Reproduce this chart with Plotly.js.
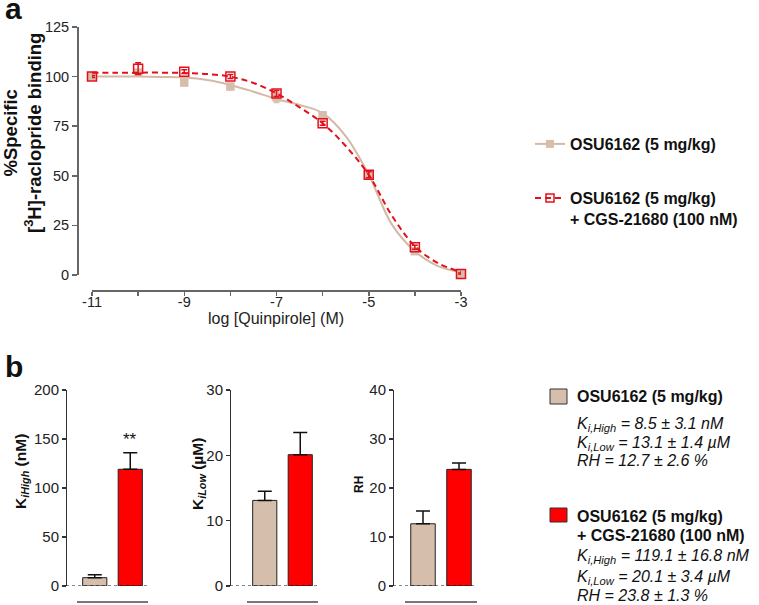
<!DOCTYPE html>
<html>
<head>
<meta charset="utf-8">
<script src="https://cdn.plot.ly/plotly-3.0.1.min.js"></script>
<style>
  body { margin: 0; background: #fff; }
  #myDiv { width: 759px; height: 605px; }
</style>
</head>
<body>
<div id="myDiv"></div>
<script>
// ---- panel a: competition binding points ----
var logConc = [-11, -10, -9, -8, -7, -6, -5, -4, -3];
var osuY = [100, 102, 97, 95, 89.5, 80.5, 50.5, 12, 0.5];
var osuErr = [0.5, 1, 1.5, 1.5, 2.5, 1.5, 1, 1.5, 0.5];
var cgsY = [100, 104, 102.5, 100, 91.5, 76.5, 50.5, 14, 0.5];
var cgsErr = [0.5, 3, 1, 1, 1.5, 1, 1.5, 1, 0.5];

// fitted curves, every half decade
var fitX = [-11, -10.5, -10, -9.5, -9, -8.5, -8, -7.5, -7, -6.5, -6, -5.5, -5, -4.5, -4, -3.5, -3];
var osuFit = [100, 100, 100, 99.8, 99.5, 98.3, 95.8, 92.4, 88.7, 85.7, 81.6, 70, 50.5, 25.5, 12, 4.5, 1.5];
var cgsFit = [102, 102, 102, 102, 101.8, 101.3, 100, 96.8, 91.5, 84.5, 76.5, 65, 50.5, 30, 14.5, 6, 1.5];

var xTickVals = [-11, -9, -7, -5, -3];
var xTickText = ['-11', '-9', '-7', '-5', '-3'];

// ---- panel b: fitted parameters ----
var groups = ['OSU6162 (5 mg/kg)', 'OSU6162 (5 mg/kg) + CGS-21680 (100 nM)'];
var kiHigh = [8.5, 119.1];
var kiHighErr = [3.1, 16.8];
var kiLow = [13.1, 20.1];
var kiLowErr = [1.4, 3.4];
var rh = [12.7, 23.8];
var rhErr = [2.6, 1.3];

var TAN = '#d6bead';
var TANLINE = '#d3b9a6';
var RED = '#ff0000';
var DASH = '#e3101c';
var FONT = 'Liberation Sans, Arial, sans-serif';

var W = 759, H = 605;
function px(x) { return x / W; }
function py(y) { return 1 - y / H; }

var data = [
  // curves
  { x: fitX, y: osuFit, mode: 'lines', line: { color: TANLINE, width: 2, shape: 'spline' },
    showlegend: false, cliponaxis: false, xaxis: 'x', yaxis: 'y' },
  { x: logConc, y: osuY, mode: 'markers', marker: { symbol: 'square', size: 8.5, color: TAN },
    error_y: { type: 'data', array: osuErr, color: TAN, thickness: 1.5, width: 3 },
    showlegend: false, cliponaxis: false, xaxis: 'x', yaxis: 'y' },
  { x: fitX, y: cgsFit, mode: 'lines', line: { color: DASH, width: 2, dash: '6px,4px', shape: 'spline' },
    showlegend: false, cliponaxis: false, xaxis: 'x', yaxis: 'y' },
  { x: logConc, y: cgsY, mode: 'markers',
    marker: { symbol: 'square-open', size: 9, color: DASH, line: { width: 1.5, color: DASH } },
    error_y: { type: 'data', array: cgsErr, color: DASH, thickness: 1.5, width: 3 },
    showlegend: false, cliponaxis: false, xaxis: 'x', yaxis: 'y' },
  // legend samples for panel a
  { x: [null], y: [null], mode: 'lines+markers', name: groups[0],
    line: { color: TANLINE, width: 2 }, marker: { symbol: 'square', size: 8, color: TAN },
    legend: 'legend', xaxis: 'x', yaxis: 'y' },
  { x: [null], y: [null], mode: 'lines+markers', name: 'OSU6162 (5 mg/kg)<br>+ CGS-21680 (100 nM)',
    line: { color: DASH, width: 2, dash: '6px,4px' },
    marker: { symbol: 'square-open', size: 8, color: DASH, line: { width: 1.5, color: DASH } },
    legend: 'legend2', xaxis: 'x', yaxis: 'y' }
];

var panels = [
  { vals: kiHigh, errs: kiHighErr, xa: 'x2', ya: 'y2' },
  { vals: kiLow, errs: kiLowErr, xa: 'x3', ya: 'y3' },
  { vals: rh, errs: rhErr, xa: 'x4', ya: 'y4' }
];
var barColors = [TAN, RED];
panels.forEach(function (p) {
  for (var i = 0; i < 2; i++) {
    data.push({
      type: 'bar', x: [groups[i]], y: [p.vals[i]], width: 0.68,
      marker: { color: barColors[i], line: { color: '#222', width: 1 } },
      error_y: { type: 'data', symmetric: false, array: [p.errs[i]], arrayminus: [0],
                 color: '#111', thickness: 1.5, width: 7 },
      name: groups[i], showlegend: false,
      cliponaxis: false, xaxis: p.xa, yaxis: p.ya
    });
  }
});

var axisBase = {
  showgrid: false, zeroline: false, showline: true, linecolor: '#666', linewidth: 1.5,
  ticks: 'outside', ticklen: 5, tickwidth: 1.5, tickcolor: '#666',
  tickfont: { family: FONT, size: 14.5, color: '#222' }, anchor: 'free'
};
function ax(extra) { return Object.assign({}, axisBase, extra); }

var catAxis = { type: 'category', showticklabels: false, ticks: '', linecolor: '#777', linewidth: 2,
                position: py(602) };
var barY = { linecolor: '#333', tickcolor: '#333', linewidth: 1, ticklen: 4,
             tickfont: { family: FONT, size: 15, color: '#222' } };

// text block for the bar legend (panel b)
function stat(i) {
  return [
    '<i>K<sub>i,High</sub> = ' + kiHigh[i].toFixed(1) + ' ± ' + kiHighErr[i].toFixed(1) + ' nM</i>',
    '<i>K<sub>i,Low</sub> = ' + kiLow[i].toFixed(1) + ' ± ' + kiLowErr[i].toFixed(1) + ' µM</i>',
    '<i>RH = ' + rh[i].toFixed(1) + ' ± ' + rhErr[i].toFixed(1) + ' %</i>'
  ];
}
var legLines = [
  { t: '<b>OSU6162 (5 mg/kg)</b>', y: 397 },
  { t: stat(0)[0], y: 424 },
  { t: stat(0)[1], y: 443 },
  { t: stat(0)[2], y: 460 },
  { t: '<b>OSU6162 (5 mg/kg)</b>', y: 516 },
  { t: '<b>+ CGS-21680 (100 nM)</b>', y: 535 },
  { t: stat(1)[0], y: 556 },
  { t: stat(1)[1], y: 577 },
  { t: stat(1)[2], y: 595 }
];

var annotations = [
  { text: '<b>a</b>', xref: 'paper', yref: 'paper', x: px(3), y: py(9), xanchor: 'left', yanchor: 'middle',
    showarrow: false, font: { family: FONT, size: 30, color: '#111' } },
  { text: '<b>b</b>', xref: 'paper', yref: 'paper', x: px(3), y: py(366), xanchor: 'left', yanchor: 'middle',
    showarrow: false, font: { family: FONT, size: 30, color: '#111' } },
  { text: '<b>%Specific<br>[<sup>3</sup>H]-raclopride binding</b>', xref: 'paper', yref: 'paper',
    x: px(22), y: py(133), xanchor: 'center', yanchor: 'middle', textangle: -90, showarrow: false,
    font: { family: FONT, size: 18.5, color: '#111' } },
  { text: 'log [Quinpirole] (M)', xref: 'paper', yref: 'paper',
    x: px(276), y: py(318), xanchor: 'center', yanchor: 'middle', showarrow: false,
    font: { family: FONT, size: 16, color: '#222' } },
  { text: '<b>K<sub><i>iHigh</i></sub> (nM)</b>', xref: 'paper', yref: 'paper',
    x: px(21), y: py(472), xanchor: 'center', yanchor: 'middle', textangle: -90, showarrow: false,
    font: { family: FONT, size: 15.5, color: '#111' } },
  { text: '<b>K<sub><i>iLow</i></sub> (µM)</b>', xref: 'paper', yref: 'paper',
    x: px(198), y: py(474), xanchor: 'center', yanchor: 'middle', textangle: -90, showarrow: false,
    font: { family: FONT, size: 15.5, color: '#111' } },
  { text: '<b>RH</b>', xref: 'paper', yref: 'paper',
    x: px(359), y: py(485), xanchor: 'center', yanchor: 'middle', textangle: -90, showarrow: false,
    font: { family: FONT, size: 12, color: '#111' } },
  { text: '**', xref: 'x2', yref: 'y2', x: groups[1], y: kiHigh[1] + kiHighErr[1],
    yanchor: 'bottom', yshift: 2, showarrow: false, font: { family: FONT, size: 17, color: '#111' } }
];
legLines.forEach(function (l) {
  annotations.push({ text: l.t, xref: 'paper', yref: 'paper', x: px(575), y: py(l.y),
    xanchor: 'left', yanchor: 'middle', showarrow: false, font: { family: FONT, size: 16, color: '#111' } });
});

var layout = {
  width: W, height: H,
  margin: { l: 0, r: 0, t: 0, b: 0 },
  paper_bgcolor: '#fff', plot_bgcolor: 'rgba(0,0,0,0)',
  font: { family: FONT, color: '#111' },
  barmode: 'overlay',
  xaxis: ax({ domain: [px(92), px(461)], range: [-11, -3], position: py(290),
              tickvals: xTickVals, ticktext: xTickText, ticklen: 4, ticklabelstandoff: -6,
              minor: { dtick: 1, tick0: -11, ticks: 'outside', ticklen: 4, tickwidth: 1.5, tickcolor: '#666' } }),
  yaxis: ax({ domain: [py(275), py(27)], range: [0, 125], dtick: 25, position: px(77) }),

  xaxis2: ax(Object.assign({ domain: [px(77), px(148)] }, catAxis)),
  yaxis2: ax(Object.assign({ domain: [py(586), py(390)], range: [0, 200], dtick: 50, position: px(66) }, barY)),
  xaxis3: ax(Object.assign({ domain: [px(247), px(318)] }, catAxis)),
  yaxis3: ax(Object.assign({ domain: [py(586), py(390)], range: [0, 30], dtick: 10, position: px(230) }, barY)),
  xaxis4: ax(Object.assign({ domain: [px(405), px(477)] }, catAxis)),
  yaxis4: ax(Object.assign({ domain: [py(586), py(390)], range: [0, 40], dtick: 10, position: px(393) }, barY)),

  legend: { x: px(530), y: py(127), xanchor: 'left', yanchor: 'top', bgcolor: 'rgba(0,0,0,0)',
            font: { family: FONT, size: 16, weight: 'bold', color: '#111' } },
  legend2: { x: px(530), y: py(181), xanchor: 'left', yanchor: 'top', bgcolor: 'rgba(0,0,0,0)', valign: 'top',
             font: { family: FONT, size: 16, weight: 'bold', color: '#111' } },

  shapes: [
    { type: 'line', xref: 'paper', yref: 'y2', x0: px(66), x1: px(148), y0: 0, y1: 0,
      line: { color: '#111', width: 1, dash: 'dot' } },
    { type: 'line', xref: 'paper', yref: 'y3', x0: px(230), x1: px(319), y0: 0, y1: 0,
      line: { color: '#111', width: 1, dash: 'dot' } },
    { type: 'line', xref: 'paper', yref: 'y4', x0: px(393), x1: px(477), y0: 0, y1: 0,
      line: { color: '#111', width: 1, dash: 'dot' } },
    // bar legend swatches
    { type: 'rect', xref: 'paper', yref: 'paper', x0: px(550), x1: px(567), y0: py(404), y1: py(389),
      fillcolor: TAN, line: { color: '#333', width: 1 } },
    { type: 'rect', xref: 'paper', yref: 'paper', x0: px(550), x1: px(567), y0: py(522), y1: py(508),
      fillcolor: RED, line: { color: '#333', width: 1 } }
  ],
  annotations: annotations
};

Plotly.newPlot('myDiv', data, layout, { displayModeBar: false, staticPlot: true });
</script>
</body>
</html>
